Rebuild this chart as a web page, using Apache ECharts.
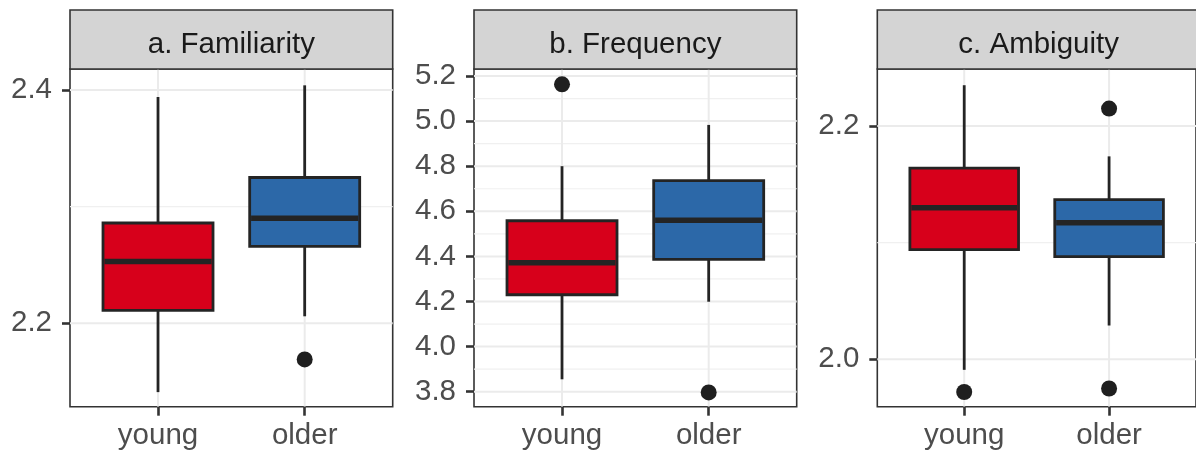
<!DOCTYPE html>
<html>
<head>
<meta charset="utf-8">
<script src="https://cdn.jsdelivr.net/npm/echarts@6/dist/echarts.min.js"></script>
<style>
  html, body { margin: 0; padding: 0; background: #ffffff; }
  #chart { width: 1196px; height: 455px; }
</style>
</head>
<body>
<div id="chart"></div>
<script>
// ---------------- data ----------------
const categories = ['young', 'older'];
const panelTitles = ['a. Familiarity', 'b. Frequency', 'c. Ambiguity'];

// [lower whisker, Q1, median, Q3, upper whisker]
const familiarityYoung = [2.141, 2.211, 2.253, 2.286, 2.394];
const familiarityOlder = [2.206, 2.266, 2.290, 2.325, 2.404];
const familiarityOutliers = [['older', 2.169]];

const frequencyYoung = [3.855, 4.230, 4.372, 4.558, 4.800];
const frequencyOlder = [4.199, 4.387, 4.560, 4.736, 4.983];
const frequencyOutliers = [['young', 5.163], ['older', 3.797]];

const ambiguityYoung = [1.991, 2.094, 2.130, 2.164, 2.235];
const ambiguityOlder = [2.029, 2.088, 2.117, 2.137, 2.174];
const ambiguityOutliers = [['young', 1.972], ['older', 2.215], ['older', 1.975]];

// axis tick labels (major breaks) and minor breaks
const familiarityTicks = [2.2, 2.4];
const familiarityMinor = [2.3];
const frequencyTicks = [3.8, 4.0, 4.2, 4.4, 4.6, 4.8, 5.0, 5.2];
const frequencyMinor = [3.9, 4.1, 4.3, 4.5, 4.7, 4.9, 5.1];
const ambiguityTicks = [2.0, 2.2];
const ambiguityMinor = [2.1];

// y-axis limits
const familiarityRange = [2.1285, 2.418];
const frequencyRange = [3.7335, 5.231];
const ambiguityRange = [1.9594, 2.2489];

// ---------------- layout / style ----------------
const FONT = "'Liberation Sans', Arial, Helvetica, sans-serif";
const FILLS = ['#D7001B', '#2C68A8'];
const INK = '#242424';
const PANEL_TOP = 69, PANEL_BOTTOM = 48.3, PANEL_W = 322.7;
const PANEL_LEFTS = [70, 474, 877.3];
const STRIP_TOP = 10;
const BOX_W = 0.75;
const X_MIN = 0.4, X_MAX = 2.6;

const panels = [
  { boxes: [familiarityYoung, familiarityOlder], outliers: familiarityOutliers,
    ticks: familiarityTicks, minor: familiarityMinor, range: familiarityRange },
  { boxes: [frequencyYoung, frequencyOlder], outliers: frequencyOutliers,
    ticks: frequencyTicks, minor: frequencyMinor, range: frequencyRange },
  { boxes: [ambiguityYoung, ambiguityOlder], outliers: ambiguityOutliers,
    ticks: ambiguityTicks, minor: ambiguityMinor, range: ambiguityRange }
];

const catPos = name => categories.indexOf(name) + 1;

function renderGrid(params, api) {
  const cs = params.coordSys;
  const kind = api.value(0); // 0 = horizontal major, 1 = horizontal minor, 2 = vertical major
  const v = api.value(1);
  if (kind === 2) {
    const x = api.coord([v, 0])[0];
    return { type: 'line', silent: true,
      shape: { x1: x, y1: cs.y, x2: x, y2: cs.y + cs.height },
      style: { stroke: '#ebebeb', lineWidth: 2 } };
  }
  const y = api.coord([1, v])[1];
  return { type: 'line', silent: true,
    shape: { x1: cs.x, y1: y, x2: cs.x + cs.width, y2: y },
    style: { stroke: kind === 0 ? '#ebebeb' : '#f0f0f0', lineWidth: kind === 0 ? 2 : 1.2 } };
}

function renderBox(params, api) {
  const x = api.value(0);
  const lo = api.value(1), q1 = api.value(2), med = api.value(3), q3 = api.value(4), hi = api.value(5);
  const h = BOX_W / 2;
  const tl = api.coord([x - h, q3]);
  const br = api.coord([x + h, q1]);
  const pHi = api.coord([x, hi]), pQ3 = api.coord([x, q3]);
  const pQ1 = api.coord([x, q1]), pLo = api.coord([x, lo]);
  const mL = api.coord([x - h, med]), mR = api.coord([x + h, med]);
  const fill = FILLS[params.dataIndex % FILLS.length];
  return { type: 'group', children: [
    { type: 'line', shape: { x1: pHi[0], y1: pHi[1], x2: pQ3[0], y2: pQ3[1] },
      style: { stroke: INK, lineWidth: 2.8 } },
    { type: 'line', shape: { x1: pQ1[0], y1: pQ1[1], x2: pLo[0], y2: pLo[1] },
      style: { stroke: INK, lineWidth: 2.8 } },
    { type: 'rect', shape: { x: tl[0], y: tl[1], width: br[0] - tl[0], height: br[1] - tl[1] },
      style: { fill: fill, stroke: INK, lineWidth: 2.8 } },
    { type: 'line', shape: { x1: mL[0] + 1.4, y1: mL[1], x2: mR[0] - 1.4, y2: mR[1] },
      style: { stroke: INK, lineWidth: 5.5 } }
  ]};
}

const grid = [], xAxis = [], yAxis = [], series = [], graphic = [];

panels.forEach((p, i) => {
  grid.push({ left: PANEL_LEFTS[i], width: PANEL_W, top: PANEL_TOP, bottom: PANEL_BOTTOM,
    show: true, backgroundColor: '#ffffff', borderColor: '#333333', borderWidth: 1.6 });

  xAxis.push({ type: 'value', gridIndex: i, min: X_MIN, max: X_MAX,
    axisLine: { show: false },
    splitLine: { show: false },
    axisTick: { show: true, customValues: [1, 2], length: 9, lineStyle: { color: '#333333', width: 2.6 } },
    axisLabel: { customValues: [1, 2], formatter: v => categories[Math.round(v) - 1],
      fontFamily: FONT, fontSize: 29.5, color: '#4d4d4d', margin: 14 } });

  yAxis.push({ type: 'value', gridIndex: i, min: p.range[0], max: p.range[1],
    axisLine: { show: false },
    splitLine: { show: false },
    axisTick: { show: true, customValues: p.ticks, length: 8, lineStyle: { color: '#333333', width: 2.6 } },
    axisLabel: { customValues: p.ticks, formatter: v => v.toFixed(1),
      fontFamily: FONT, fontSize: 29.5, color: '#4d4d4d', margin: 18 } });

  const gridData = []
    .concat(p.minor.map(v => [1, v]))
    .concat(p.ticks.map(v => [0, v]))
    .concat(categories.map((c, k) => [2, k + 1]));
  series.push({ type: 'custom', xAxisIndex: i, yAxisIndex: i, z: 1, silent: true,
    renderItem: renderGrid, data: gridData, clip: true });

  series.push({ type: 'custom', xAxisIndex: i, yAxisIndex: i, z: 3,
    renderItem: renderBox,
    data: p.boxes.map((b, k) => [k + 1].concat(b)) });

  series.push({ type: 'scatter', xAxisIndex: i, yAxisIndex: i, z: 4,
    symbol: 'circle', symbolSize: 16, itemStyle: { color: '#1f1f1f', opacity: 1 },
    data: p.outliers.map(o => [catPos(o[0]), o[1]]) });

  graphic.push({ type: 'rect', x: 0, y: 0, z: 10,
    shape: { x: PANEL_LEFTS[i], y: STRIP_TOP, width: PANEL_W, height: PANEL_TOP - STRIP_TOP },
    style: { fill: '#d4d4d4', stroke: '#333333', lineWidth: 1.6 } });
  graphic.push({ type: 'text', z: 11,
    x: PANEL_LEFTS[i] + PANEL_W / 2, y: 45,
    style: { text: panelTitles[i], fontFamily: FONT, fontSize: 29.5, fill: '#1a1a1a',
      align: 'center', verticalAlign: 'middle' } });
});

const chart = echarts.init(document.getElementById('chart'), null, { renderer: 'canvas' });
chart.setOption({
  animation: false,
  backgroundColor: '#ffffff',
  grid, xAxis, yAxis, series, graphic
});
</script>
</body>
</html>
